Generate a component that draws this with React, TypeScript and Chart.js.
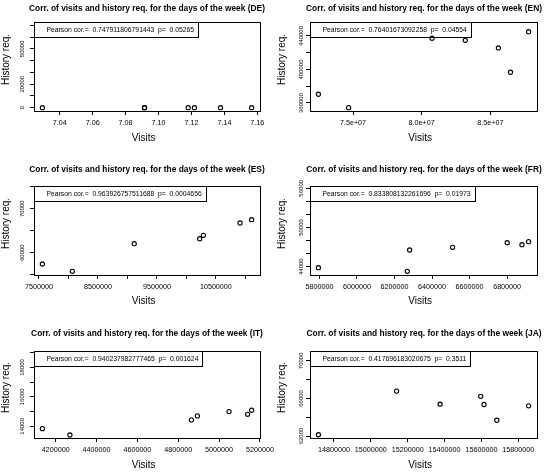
import React, { useEffect, useRef } from "react";
import { Chart, registerables } from "chart.js";

Chart.register(...registerables);

const FONT = "'Liberation Sans', Arial, Helvetica, sans-serif";

// ---------- data ----------
const deVisits = [7.0295, 7.0915, 7.0915, 7.118, 7.1218, 7.1376, 7.1565];
const deHistory = [0, 0, 0, 0, 0, 0, 0];
const enVisits = [72480000, 74680000, 80750000, 83170000, 85580000, 86460000, 87780000];
const enHistory = [370400, 354400, 437300, 434900, 425700, 396700, 445100];
const esVisits = [7557600, 8065500, 9115300, 10226000, 10288600, 10910000, 11106400];
const esHistory = [57430, 55770, 62045, 63180, 63950, 66750, 67500];
const frVisits = [5794600, 6268200, 6280600, 6509300, 6800300, 6879000, 6914400];
const frHistory = [43850, 43300, 46555, 46970, 47670, 47370, 47830];
const itVisits = [4135000, 4269900, 4864500, 4893800, 5048700, 5139600, 5159200];
const itHistory = [13843, 13414, 14436, 14709, 15002, 14818, 15091];
const jaVisits = [14716000, 15139800, 15376000, 15596300, 15614300, 15683600, 15855900];
const jaHistory = [62136, 66780, 65386, 66224, 65354, 63677, 65208];

const languages = ["DE", "EN", "ES", "FR", "IT", "JA"];
const pearsonCor = [
  "0.747911806791443",
  "0.76401673092258",
  "0.963926757511688",
  "0.833808132261696",
  "0.940237982777465",
  "0.417696183020675",
];
const pValues = ["0.05265", "0.04554", "0.0004656", "0.01973", "0.001624", "0.3511"];

// axis ranges
const deXRange = [7.0244, 7.1616];
const deYRange = [-2800, 72800];
const enXRange = [71870000, 88390000];
const enYRange = [350400, 456700];
const esXRange = [7415650, 11248350];
const esYRange = [54930, 75160];
const frXRange = [5749800, 6959200];
const frYRange = [42730, 56350];
const itXRange = [4094030, 5200170];
const itYRange = [13209, 19113];
const jaXRange = [14670400, 15901500];
const jaYRange = [61790, 71046];

// tick steps
const xSteps = [0.02, 5000000, 500000, 200000, 200000, 200000];
const ySteps = [10000, 20000, 5000, 2000, 1000, 2000];

// labelled ticks (null = label every tick)
const deYLabels = [0, 20000, 50000];
const enYLabels = [360000, 400000, 440000];
const esXLabels = [7500000, 8500000, 9500000, 10500000];
const esYLabels = [60000, 70000];
const frYLabels = [44000, 50000, 56000];
const itYLabels = [14000, 16000, 18000];
const jaYLabels = [62000, 66000, 70000];

// ---------- layout ----------
const TITLE_SIZE = 8.4;
const AXIS_TITLE_SIZE = 10;
const XTICK_SIZE = 7.2;
const YTICK_SIZE = 6;
const LEGEND_SIZE = 6.8;
const TICK_LEN = 4;
const Y_TITLE_SHIFT = -7; // R places "History req." a little above the box centre
const X_TITLE_SHIFT = -3.3;

const COLS = [
  { left: 0, width: 294, boxLeft: 34, boxRight: 260, yLabelCenter: 22.7, yTitleCenter: 6 },
  { left: 272, width: 304, boxLeft: 310, boxRight: 537, yLabelCenter: 301.5, yTitleCenter: 282 },
];
const ROWS = [
  { top: 0, height: 150, boxTop: 22, boxBottom: 111, titleCenter: 8.3, visitsCenter: 138.3 },
  { top: 155, height: 155, boxTop: 186, boxBottom: 275, titleCenter: 170, visitsCenter: 301.7 },
  { top: 318, height: 154, boxTop: 351, boxBottom: 438, titleCenter: 334, visitsCenter: 465 },
];

type Fmt = (v: number) => string;
const fmtFixed2: Fmt = (v) => v.toFixed(2);
const fmtExp: Fmt = (v) => v.toExponential(1).replace(/e([+-])(\d)$/, "e$10$2");
const fmtInt: Fmt = (v) => String(Math.round(v));

type PanelDef = {
  code: string;
  visits: number[];
  history: number[];
  xRange: number[];
  yRange: number[];
  xStep: number;
  yStep: number;
  xLabels: number[] | null;
  yLabels: number[] | null;
  xFmt: Fmt;
  cor: string;
  p: string;
  col: number;
  row: number;
};

const visitsList = [deVisits, enVisits, esVisits, frVisits, itVisits, jaVisits];
const historyList = [deHistory, enHistory, esHistory, frHistory, itHistory, jaHistory];
const xRanges = [deXRange, enXRange, esXRange, frXRange, itXRange, jaXRange];
const yRanges = [deYRange, enYRange, esYRange, frYRange, itYRange, jaYRange];
const xLabelLists = [null, null, esXLabels, null, null, null];
const yLabelLists = [deYLabels, enYLabels, esYLabels, frYLabels, itYLabels, jaYLabels];
const xFmts = [fmtFixed2, fmtExp, fmtInt, fmtInt, fmtInt, fmtInt];

const panels: PanelDef[] = languages.map((code, i) => ({
  code,
  visits: visitsList[i],
  history: historyList[i],
  xRange: xRanges[i],
  yRange: yRanges[i],
  xStep: xSteps[i],
  yStep: ySteps[i],
  xLabels: xLabelLists[i],
  yLabels: yLabelLists[i],
  xFmt: xFmts[i],
  cor: pearsonCor[i],
  p: pValues[i],
  col: i % 2,
  row: Math.floor(i / 2),
}));

const isLabelled = (v: number, list: number[] | null) =>
  list === null || list.some((L) => Math.abs(v - L) < 1e-6 * Math.max(1, Math.abs(L)));

// ticks at every multiple of the step that lies inside the axis range (R-style pretty ticks)
const stepTicks = (min: number, max: number, step: number) => {
  const out: { value: number }[] = [];
  const k0 = Math.ceil(min / step - 1e-9);
  const k1 = Math.floor(max / step + 1e-9);
  for (let k = k0; k <= k1; k++) out.push({ value: parseFloat((k * step).toPrecision(12)) });
  return out;
};

function Panel({ def }: { def: PanelDef }) {
  const ref = useRef<HTMLCanvasElement | null>(null);
  const col = COLS[def.col];
  const row = ROWS[def.row];

  useEffect(() => {
    const canvas = ref.current;
    if (!canvas) return;

    const titleLH = TITLE_SIZE * 1.2;
    const axisLH = AXIS_TITLE_SIZE * 1.2;
    const tc = row.titleCenter - row.top;
    const boxTopC = row.boxTop - row.top;
    const yScaleWidth = col.boxLeft - col.left;
    const rightSpace = col.left + col.width - col.boxRight;
    const xScaleHeight = row.top + row.height - row.boxBottom;
    const visitsPad = row.top + row.height - row.visitsCenter - axisLH / 2;
    const yTitlePad = col.yTitleCenter - col.left - axisLH / 2;
    const yLabelStrings = (def.yLabels || []).map((v) => fmtInt(v));
    const yMaxLen = Math.max(...yLabelStrings.map((s) => s.length));
    const yWidest = yMaxLen * 0.556 * YTICK_SIZE;
    const yTickPad = col.boxLeft - col.yLabelCenter - TICK_LEN - yWidest / 2;
    const legendText = `Pearson cor.=  ${def.cor}  p=  ${def.p}`;

    const framePlugin = {
      id: "frameAndLegend",
      afterLayout(chart: any) {
        // nudge only the axis-title anchors (pixel mapping is already configured)
        const ys = chart.scales.y;
        ys.top += Y_TITLE_SHIFT;
        ys.bottom += Y_TITLE_SHIFT;
        const xs = chart.scales.x;
        xs.left += X_TITLE_SHIFT;
        xs.right += X_TITLE_SHIFT;
      },
      afterDatasetsDraw(chart: any) {
        const { ctx, chartArea: a } = chart;
        ctx.save();
        ctx.strokeStyle = "#000";
        ctx.lineWidth = 1;
        const l = Math.round(a.left);
        const t = Math.round(a.top);
        const r = Math.round(a.right);
        const b = Math.round(a.bottom);
        ctx.strokeRect(l + 0.5, t + 0.5, r - l, b - t);
        ctx.font = `${LEGEND_SIZE}px ${FONT}`;
        const tw = ctx.measureText(legendText).width;
        const lw = Math.round(tw + 16.5);
        const lh = 15;
        ctx.strokeRect(l + 0.5, t + 0.5, lw, lh);
        ctx.fillStyle = "#000";
        ctx.textBaseline = "middle";
        ctx.textAlign = "left";
        ctx.fillText(legendText, l + 12.5, t + 0.5 + lh / 2);
        ctx.restore();
      },
    };

    const tickGrid = {
      display: true,
      drawOnChartArea: false,
      drawTicks: true,
      tickLength: TICK_LEN,
      color: "#000",
      lineWidth: 1,
    };

    const chart = new Chart(canvas, {
      type: "scatter",
      data: {
        datasets: [
          {
            data: def.visits.map((v, i) => ({ x: v, y: def.history[i] })),
            pointStyle: "circle",
            pointRadius: 2.1,
            pointHoverRadius: 2.1,
            borderWidth: 1.1,
            borderColor: "#000",
            backgroundColor: "rgba(0,0,0,0)",
            clip: false,
          } as any,
        ],
      },
      options: {
        responsive: false,
        animation: false,
        devicePixelRatio: 1,
        events: [],
        layout: { padding: { left: 0, right: 0, top: 0, bottom: 0 } },
        plugins: {
          legend: { display: false },
          tooltip: { enabled: false },
          title: {
            display: true,
            text: `Corr. of visits and history req. for the days of the week (${def.code})`,
            color: "#000",
            font: { family: FONT, size: TITLE_SIZE, weight: "bold", lineHeight: 1.2 },
            padding: { top: tc - titleLH / 2, bottom: boxTopC - tc - titleLH / 2 },
            fullSize: true,
          },
        },
        scales: {
          x: {
            type: "linear",
            position: "bottom",
            min: def.xRange[0],
            max: def.xRange[1],
            grid: tickGrid,
            border: { display: false },
            afterBuildTicks: (s: any) => {
              s.ticks = stepTicks(def.xRange[0], def.xRange[1], def.xStep);
            },
            ticks: {
              autoSkip: false,
              minRotation: 0,
              maxRotation: 0,
              padding: 3.4,
              color: "#000",
              font: { family: FONT, size: XTICK_SIZE },
              callback: (v: any) => {
                const n = Number(v);
                return isLabelled(n, def.xLabels) ? def.xFmt(n) : "";
              },
            },
            title: {
              display: true,
              text: "Visits",
              color: "#000",
              font: { family: FONT, size: AXIS_TITLE_SIZE, lineHeight: 1.2 },
              padding: { top: 0, bottom: visitsPad },
            },
            afterFit: (s: any) => {
              s.height = xScaleHeight;
            },
          },
          y: {
            type: "linear",
            position: "left",
            min: def.yRange[0],
            max: def.yRange[1],
            grid: tickGrid,
            border: { display: false },
            afterBuildTicks: (s: any) => {
              s.ticks = stepTicks(def.yRange[0], def.yRange[1], def.yStep);
            },
            ticks: {
              autoSkip: false,
              minRotation: 90,
              maxRotation: 90,
              crossAlign: "center",
              padding: yTickPad,
              color: "#000",
              font: { family: FONT, size: YTICK_SIZE },
              callback: (v: any) => {
                const n = Number(v);
                return isLabelled(n, def.yLabels) ? fmtInt(n) : "";
              },
            },
            title: {
              display: true,
              text: "History req.",
              color: "#000",
              font: { family: FONT, size: AXIS_TITLE_SIZE, lineHeight: 1.2 },
              padding: { top: yTitlePad, bottom: 0 },
            },
            afterFit: (s: any) => {
              s.width = yScaleWidth;
            },
          },
          rightSpacer: {
            type: "linear",
            position: "right",
            display: true,
            grid: { display: false },
            border: { display: false },
            ticks: { display: false },
            afterFit: (s: any) => {
              s.width = rightSpace;
            },
          },
        },
      } as any,
      plugins: [framePlugin],
    });

    return () => chart.destroy();
  }, [def]);

  return (
    <canvas
      ref={ref}
      width={col.width}
      height={row.height}
      style={{
        position: "absolute",
        left: col.left,
        top: row.top,
        width: col.width,
        height: row.height,
        display: "block",
      }}
    />
  );
}

export default function App() {
  return (
    <div
      style={{
        position: "fixed",
        left: 0,
        top: 0,
        width: 544,
        height: 472,
        overflow: "hidden",
        background: "#fff",
      }}
    >
      {panels.map((def) => (
        <Panel key={def.code} def={def} />
      ))}
    </div>
  );
}
